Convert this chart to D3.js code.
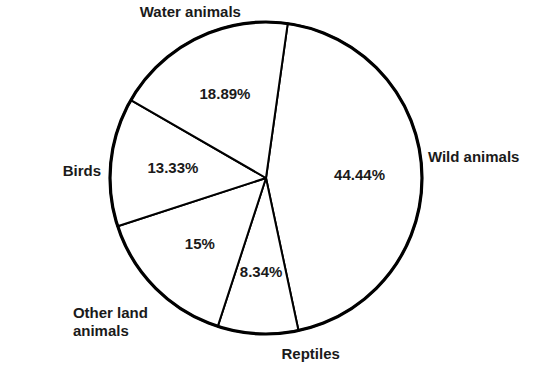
<!DOCTYPE html>
<html><head><meta charset="utf-8">
<script src="https://cdn.jsdelivr.net/npm/d3@7"></script>
<style>body{margin:0;background:#fff}</style>
</head><body>
<script>
const categories = ["Wild animals", "Reptiles", "Other land animals", "Birds", "Water animals"];
const values = [44.44, 8.34, 15, 13.33, 18.89];
const valueLabels = ["44.44%", "8.34%", "15%", "13.33%", "18.89%"];

const W = 544, H = 384, cx = 266, cy = 178, R = 156;
const svg = d3.select("body").append("svg").attr("width", W).attr("height", H)
  .style("font-family", "'Liberation Sans', Arial, sans-serif");
const g = svg.append("g").attr("transform", `translate(${cx},${cy})`);

const start = 8 * Math.PI / 180;
const pie = d3.pie().sort(null).value(d => d).startAngle(start).endAngle(start + 2 * Math.PI);
const arcs = pie(values);
const arc = d3.arc().innerRadius(0).outerRadius(R);
const inner = d3.arc().innerRadius(R * 0.6).outerRadius(R * 0.6);

g.selectAll("path.slice").data(arcs).join("path")
  .attr("class", "slice").attr("d", arc)
  .attr("fill", "#fff").attr("stroke", "#000").attr("stroke-width", 2).attr("stroke-linejoin", "round");
g.append("circle").attr("r", R).attr("fill", "none").attr("stroke", "#000").attr("stroke-width", 3.2);

g.selectAll("text.pct").data(arcs).join("text")
  .attr("class", "pct")
  .attr("x", d => inner.centroid(d)[0]).attr("y", d => inner.centroid(d)[1])
  .attr("text-anchor", "middle").attr("dy", "0.35em")
  .attr("font-size", 15).attr("font-weight", "bold").attr("fill", "#1a1a1a")
  .text((d, i) => valueLabels[i]);

// label layout: radial offset and nudge (layout only)
const off = [6, 22, 18, 22, 28];
const nudge = [[0, -15], [54, -9], [5, 5], [12, 12], [5, 4]];
arcs.forEach((d, i) => {
  const a = (d.startAngle + d.endAngle) / 2;
  const s = Math.sin(a), c = Math.cos(a);
  const x = s * (R + off[i]) + nudge[i][0], y = -c * (R + off[i]) + nudge[i][1];
  const anchor = s > 0.6 ? "start" : (s < -0.6 ? "end" : "middle");
  const words = categories[i] === "Other land animals" ? ["Other land", "animals"] : [categories[i]];
  const t = g.append("text").attr("font-size", 15).attr("font-weight", "bold").attr("fill", "#1a1a1a")
    .attr("text-anchor", words.length > 1 ? "start" : anchor);
  words.forEach((w, k) => t.append("tspan").attr("x", 0).attr("dy", k ? 18 : 0).text(w));
  let bx = x;
  if (words.length > 1) {
    const wmax = d3.max(t.selectAll("tspan").nodes(), n => n.getComputedTextLength());
    bx = x - wmax;
  }
  const dy = words.length > 1 ? 12 : (c < -0.6 ? 12 : (c > 0.6 ? 0 : 5));
  t.attr("transform", `translate(${bx},${y + dy})`);
});
</script>
</body></html>
